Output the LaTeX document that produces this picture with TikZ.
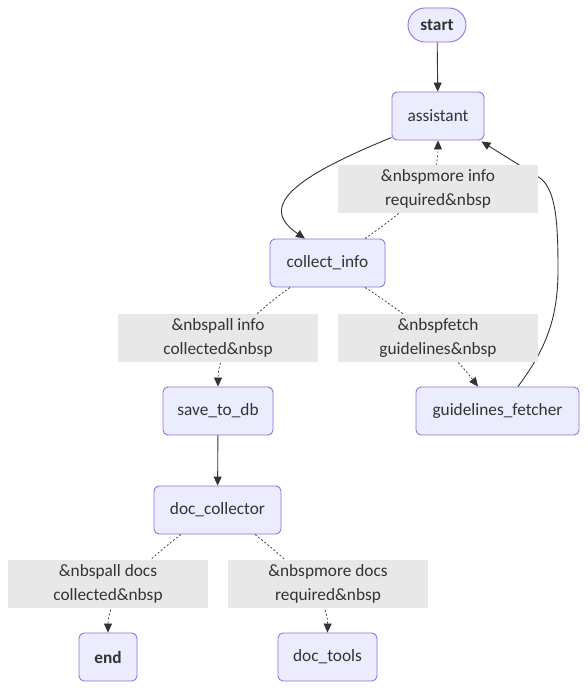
\documentclass[tikz,border=0pt]{standalone}
\usepackage{fontspec}
\setmainfont{Carlito}
\usetikzlibrary{arrows.meta,shapes.misc}
\definecolor{nodefill}{HTML}{ECECFF}
\definecolor{nodeline}{HTML}{9370DB}
\definecolor{lblfill}{HTML}{E8E8E8}
\definecolor{ink}{HTML}{333333}
\tikzset{
  box/.style={draw=nodeline, fill=nodefill, rounded corners=5pt, line width=0.9pt,
    text=ink, font=\fontsize{17.3}{20}\selectfont, inner sep=0pt, minimum height=48pt},
  pill/.style={rounded rectangle, draw=nodeline, fill=nodefill, line width=0.9pt,
    text=ink, font=\fontsize{17.3}{20}\selectfont\bfseries, inner sep=0pt,
    minimum width=58pt, minimum height=34pt},
  lbl/.style={fill=lblfill, text=ink, font=\fontsize{17.3}{24}\selectfont,
    align=center, inner sep=0pt, minimum width=200pt, minimum height=48pt},
  solidedge/.style={draw=ink, line width=0.9pt, -{Triangle[length=9pt,width=8pt]}},
  dotedge/.style={draw=ink, line width=0.7pt, dash pattern=on 2pt off 2pt,
    -{Triangle[length=9pt,width=8pt]}}
}
\begin{document}
\begin{tikzpicture}[x=1pt,y=-1pt]
\fill[white] (0,0) rectangle (588,690);
\useasboundingbox (0,0) rectangle (588,690);

% nodes
\node[pill] (start) at (437,25) {start};
\node[box, minimum width=92pt] (assistant) at (438,116) {assistant};
\node[box, minimum width=115pt] (collect) at (327.5,263) {collect\_info};
\node[box, minimum width=110pt] (save) at (218,411) {save\_to\_db};
\node[box, minimum width=163pt] (guide) at (497.5,411) {guidelines\_fetcher};
\node[box, minimum width=127pt] (doccol) at (217.5,510) {doc\_collector};
\node[box, minimum width=58pt, font=\fontsize{17.3}{20}\selectfont\bfseries] (end) at (108,657) {end};
\node[box, minimum width=99pt] (doctools) at (327.5,657) {doc\_tools};

% edges
\draw[solidedge] (start) -- (assistant);
\draw[solidedge] ([yshift=3pt]assistant.south west) .. controls (300,175) and (255,205) .. ([xshift=-22.5pt]collect.north);
\draw[dotedge] ([xshift=37.5pt]collect.north) .. controls (420,200) and (438,180) .. (assistant.south);
\draw[dotedge] ([xshift=-37.5pt]collect.south) .. controls (245,320) and (218,350) .. (save.north);
\draw[dotedge] ([xshift=37.5pt]collect.south) .. controls (415,320) and (450,350) .. ([xshift=-19.5pt]guide.north);
\draw[solidedge] ([xshift=20.5pt]guide.north) .. controls (545,350) and (558,320) .. (558,270)
  .. controls (558,222) and (556,190) .. (540,178) -- ([xshift=-3pt,yshift=-1pt]assistant.south east);
\draw[solidedge] (save) -- (doccol);
\draw[dotedge] ([xshift=-36.5pt]doccol.south) .. controls (135,570) and (108,600) .. (end.north);
\draw[dotedge] ([xshift=37.5pt]doccol.south) .. controls (300,570) and (328,600) .. (doctools.north);

% labels
\node[lbl] (l1) at (438,188.5) {\&nbspmore info\\required\&nbsp};
\node[lbl] (l2) at (218,337.5) {\&nbspall info\\collected\&nbsp};
\node[lbl] (l3) at (438,337.5) {\&nbspfetch\\guidelines\&nbsp};
\node[lbl] (l4) at (108,583.5) {\&nbspall docs\\collected\&nbsp};
\node[lbl] (l5) at (328,583.5) {\&nbspmore docs\\required\&nbsp};
\end{tikzpicture}
\end{document}
